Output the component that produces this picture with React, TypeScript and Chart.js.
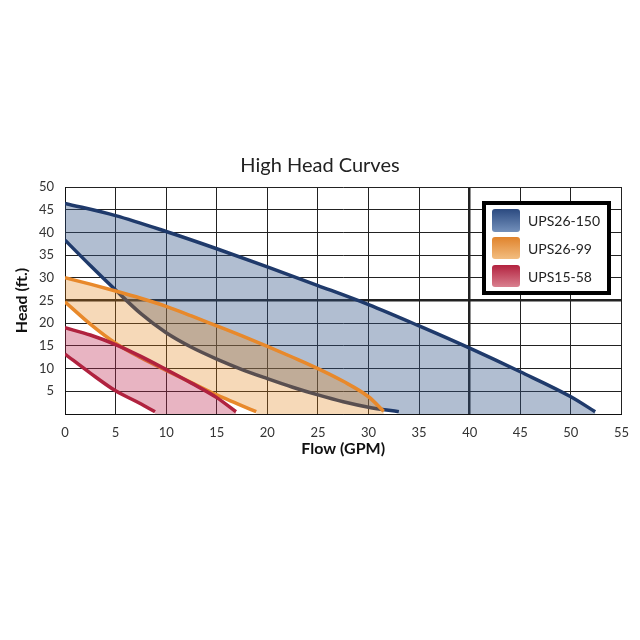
import React, { useEffect, useRef } from "react";
import { Chart, registerables } from "chart.js";

Chart.register(...registerables);

// ---- Data ----
const blueHighX = [0, 5, 10, 15, 20, 25, 30, 35, 40, 45, 50, 52.4];
const blueHighY = [46.4, 43.7, 40.2, 36.4, 32.4, 28.3, 24.1, 19.4, 14.5, 9.3, 3.8, 0.5];

const blueLowX = [0, 2.5, 5, 7.5, 10, 12.5, 15, 17.5, 20, 22.5, 25, 27.5, 30, 33];
const blueLowY = [38.3, 32.7, 27.3, 22.1, 17.9, 14.7, 12.1, 9.8, 7.8, 5.9, 4.2, 2.7, 1.5, 0.5];

const orangeHighX = [0, 2.5, 5, 7.5, 10, 12.5, 15, 17.5, 20, 22.5, 25, 27.5, 30, 31.5];
const orangeHighY = [30.0, 28.6, 27.1, 25.5, 23.7, 21.6, 19.4, 17.2, 14.9, 12.5, 10.0, 7.2, 3.8, 0.6];

const orangeLowX = [0, 2.5, 5, 7.5, 10, 12.5, 15, 17, 18.9];
const orangeLowY = [24.7, 19.8, 15.6, 12.4, 9.6, 6.9, 4.2, 2.3, 0.5];

const redHighX = [0, 2.5, 5, 7.5, 10, 12.5, 15, 16.9];
const redHighY = [19.0, 17.4, 15.3, 12.7, 9.8, 6.8, 3.6, 0.5];

const redLowX = [0, 2.5, 5, 7, 8.9];
const redLowY = [13.2, 9.0, 5.1, 2.8, 0.5];

const seriesNames = ["UPS26-150", "UPS26-99", "UPS15-58"];
const titleText = "High Head Curves";
const xTitle = "Flow (GPM)";
const yTitle = "Head (ft.)";

const FONT = "Lato, 'Open Sans', sans-serif";

const pts = (xs: number[], ys: number[]) => xs.map((x, i) => ({ x, y: ys[i] }));

// closed shape between a high curve and a low curve, down to the x axis
const band = (hx: number[], hy: number[], lx: number[], ly: number[]) => {
  const high = pts(hx, hy);
  const low = pts(lx, ly).reverse();
  return [
    ...high,
    { x: hx[hx.length - 1], y: 0 },
    { x: lx[lx.length - 1], y: 0 },
    ...low,
  ];
};

const lineDs = (label: string, data: any[], color: string, order: number) => ({
  label,
  data,
  borderColor: color,
  backgroundColor: color,
  borderWidth: 3.5,
  pointRadius: 0,
  cubicInterpolationMode: "monotone",
  fill: false,
  order,
});

const fillDs = (label: string, data: any[], color: string, order: number) => ({
  label,
  data,
  borderColor: "rgba(0,0,0,0)",
  backgroundColor: color,
  borderWidth: 0,
  pointRadius: 0,
  tension: 0,
  fill: "shape",
  order,
});

const overlayPlugin = {
  id: "overlay",
  afterDraw(chart: any) {
    const ctx = chart.ctx as CanvasRenderingContext2D;
    ctx.save();
    // title
    ctx.fillStyle = "#222";
    ctx.font = `20px ${FONT}`;
    ctx.textAlign = "center";
    ctx.textBaseline = "middle";
    ctx.fillText(titleText, 320, 166);

    // legend box
    ctx.fillStyle = "#fff";
    ctx.fillRect(484, 203, 125, 90);
    ctx.lineWidth = 4;
    ctx.strokeStyle = "#000";
    ctx.strokeRect(484, 203, 125, 90);

    const sw = [
      { y: 209, h: 23, top: "#2b4a80", bot: "#7390bb" },
      { y: 237, h: 22, top: "#e0832c", bot: "#f2bd80" },
      { y: 265, h: 22, top: "#b3223f", bot: "#d9808f" },
    ];
    sw.forEach((s, i) => {
      const g = ctx.createLinearGradient(0, s.y, 0, s.y + s.h);
      g.addColorStop(0, s.top);
      g.addColorStop(1, s.bot);
      ctx.fillStyle = g;
      ctx.beginPath();
      (ctx as any).roundRect(492, s.y, 28, s.h, 3);
      ctx.fill();
      ctx.fillStyle = "#222";
      ctx.font = `14px ${FONT}`;
      ctx.textAlign = "left";
      ctx.textBaseline = "middle";
      ctx.fillText(seriesNames[i], 528, s.y + s.h / 2 + 1);
    });
    ctx.restore();
  },
};

export default function App() {
  const ref = useRef<HTMLCanvasElement | null>(null);

  useEffect(() => {
    if (!ref.current) return;
    const navy = "#1f3a6b";
    const orange = "#e8892b";
    const red = "#b0223f";
    const chart = new Chart(ref.current, {
      type: "line",
      data: {
        datasets: [
          fillDs("UPS26-150 band", band(blueHighX, blueHighY, blueLowX, blueLowY), "rgba(50,85,135,0.38)", 6),
          lineDs("UPS26-150 max", pts(blueHighX, blueHighY), navy, 5),
          lineDs("UPS26-150 min", pts(blueLowX, blueLowY), navy, 5),
          fillDs("UPS26-99 band", band(orangeHighX, orangeHighY, orangeLowX, orangeLowY), "rgba(225,130,20,0.3)", 4),
          lineDs("UPS26-99 max", pts(orangeHighX, orangeHighY), orange, 3),
          lineDs("UPS26-99 min", pts(orangeLowX, orangeLowY), orange, 3),
          fillDs("UPS15-58 band", band(redHighX, redHighY, redLowX, redLowY), "rgba(190,40,80,0.35)", 2),
          lineDs("UPS15-58 max", pts(redHighX, redHighY), red, 1),
          lineDs("UPS15-58 min", pts(redLowX, redLowY), red, 1),
        ] as any,
      },
      options: {
        responsive: false,
        maintainAspectRatio: false,
        devicePixelRatio: 1,
        animation: false,
        layout: { padding: { top: 187, left: 0, right: 16, bottom: 182 } },
        plugins: {
          legend: { display: false },
          tooltip: { enabled: false },
          title: { display: false },
        },
        scales: {
          x: {
            type: "linear",
            min: 0,
            max: 55,
            ticks: { stepSize: 5, padding: 11, color: "#333", font: { family: FONT, size: 13 } },
            grid: {
              color: "#222",
              lineWidth: (c: any) => (c.tick && c.tick.value === 40 ? 2.5 : 1),
              drawTicks: false,
            },
            border: { color: "#111", width: 1 },
            title: {
              display: true,
              text: xTitle,
              color: "#111",
              font: { family: FONT, size: 16, weight: "bold" },
              padding: { top: 0, bottom: 0 },
            },
            afterFit: (s: any) => {
              s.height = 44;
            },
          },
          y: {
            type: "linear",
            min: 0,
            max: 50,
            ticks: {
              stepSize: 5,
              padding: 11,
              color: "#333",
              font: { family: FONT, size: 13 },
              callback: (v: any) => (v === 0 ? "" : v),
            },
            grid: {
              color: "#222",
              lineWidth: (c: any) => (c.tick && c.tick.value === 25 ? 2.5 : 1),
              drawTicks: false,
            },
            border: { color: "#111", width: 1 },
            title: {
              display: true,
              text: yTitle,
              color: "#111",
              font: { family: FONT, size: 16, weight: "bold" },
              padding: { top: 12, bottom: 0 },
            },
            afterFit: (s: any) => {
              s.width = 65;
            },
          },
        },
      } as any,
      plugins: [overlayPlugin],
    });
    return () => chart.destroy();
  }, []);

  return (
    <div style={{ position: "fixed", left: 0, top: 0, width: 640, height: 640, background: "#fff" }}>
      <canvas ref={ref} width={640} height={640} style={{ display: "block", width: 640, height: 640 }} />
    </div>
  );
}
